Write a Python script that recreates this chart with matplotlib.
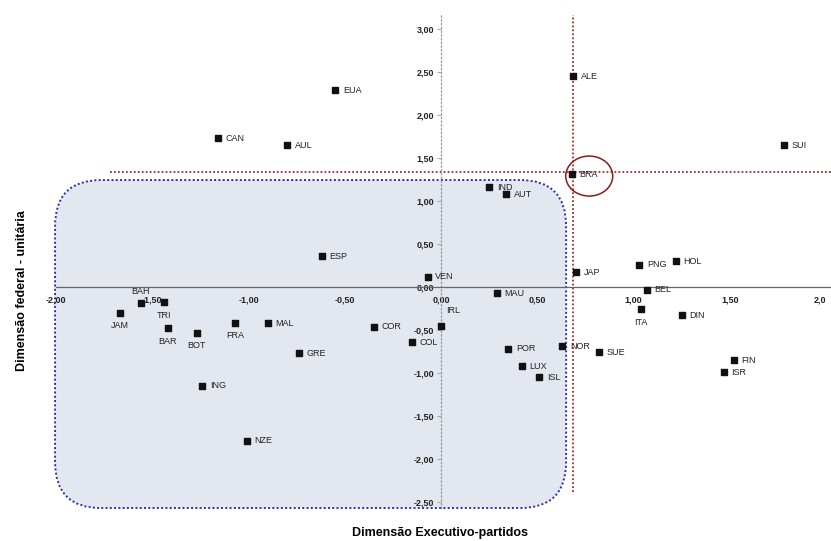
import matplotlib.pyplot as plt
from matplotlib.patches import FancyBboxPatch, Ellipse

plt.rcParams['font.family'] = ['Liberation Sans', 'DejaVu Sans']

# dados: sigla do país, dimensão executivo-partidos (x), dimensão federal-unitária (y)
paises = ['EUA', 'CAN', 'AUL', 'ESP', 'ALE', 'SUI', 'BRA', 'IND', 'AUT', 'JAP',
          'PNG', 'HOL', 'VEN', 'MAU', 'BEL', 'IRL', 'COL', 'ITA', 'DIN', 'POR',
          'NOR', 'SUE', 'LUX', 'ISL', 'FIN', 'ISR', 'BAH', 'TRI', 'JAM', 'BAR',
          'BOT', 'FRA', 'MAL', 'COR', 'GRE', 'ING', 'NZE']
exec_partidos = [-0.55, -1.16, -0.80, -0.62, 0.686, 1.78, 0.68, 0.25, 0.34, 0.70,
                 1.03, 1.22, -0.07, 0.29, 1.07, 0.00, -0.15, 1.04, 1.25, 0.35,
                 0.63, 0.82, 0.42, 0.51, 1.52, 1.47, -1.56, -1.44, -1.67, -1.42,
                 -1.27, -1.07, -0.90, -0.35, -0.74, -1.24, -1.01]
federal_unitaria = [2.29, 1.73, 1.65, 0.36, 2.45, 1.65, 1.31, 1.16, 1.08, 0.17,
                    0.26, 0.30, 0.12, -0.07, -0.03, -0.45, -0.64, -0.26, -0.33, -0.72,
                    -0.69, -0.76, -0.92, -1.05, -0.85, -0.99, -0.19, -0.18, -0.30, -0.48,
                    -0.53, -0.42, -0.42, -0.46, -0.77, -1.15, -1.79]

xticks = [-2.0, -1.5, -1.0, -0.5, 0.0, 0.5, 1.0, 1.5, 2.0]
xtick_labels = ['-2,00', '-1,50', '-1,00', '-0,50', '0,00', '0,50', '1,00', '1,50', '2,0']
yticks = [-2.5, -2.0, -1.5, -1.0, -0.5, 0.0, 0.5, 1.0, 1.5, 2.0, 2.5, 3.0]
ytick_labels = ['-2,50', '-2,00', '-1,50', '-1,00', '-0,50', '0,00', '0,50', '1,00',
                '1,50', '2,00', '2,50', '3,00']

# linhas de referência (Brasil)
ref_x = 0.686
ref_y = 1.34

# rótulos que não ficam à direita do ponto
pos_rotulo = {'BAH': 'above', 'IRL': 'aboveright', 'TRI': 'below', 'JAM': 'below',
              'BAR': 'below', 'BOT': 'below', 'FRA': 'below', 'ITA': 'below'}

fig = plt.figure(figsize=(8.31, 5.41), dpi=100)
ax = fig.add_axes([0, 0, 1, 1])
ax.set_xlim(-2.291, 2.026)
ax.set_ylim(-2.953, 3.337)

# área sombreada com canto arredondado
caixa = FancyBboxPatch((-2.005, -2.57), 2.655, 3.814,
                       boxstyle='round,pad=0,rounding_size=0.24',
                       mutation_aspect=2.24,
                       facecolor='#e3e7ef', edgecolor='#2b2bb0',
                       linestyle=(0, (1, 1.2)), linewidth=1.4, zorder=0.5)
ax.add_patch(caixa)

# eixos passando pela origem
ax.spines['top'].set_visible(False)
ax.spines['right'].set_visible(False)
ax.spines['left'].set_position(('data', 0))
ax.spines['bottom'].set_position(('data', 0))
ax.spines['bottom'].set_bounds(-2.0, 2.03)
ax.spines['bottom'].set_color('#666666')
ax.spines['bottom'].set_linewidth(0.9)
ax.spines['left'].set_bounds(-2.57, 3.16)
ax.spines['left'].set_color('#999999')
ax.spines['left'].set_linestyle((0, (1, 2)))
ax.spines['left'].set_linewidth(0.9)

ax.set_xticks(xticks)
ax.set_xticklabels(xtick_labels)
ax.set_yticks(yticks)
ax.set_yticklabels(ytick_labels)
ax.tick_params(axis='x', length=0, pad=6, labelsize=6.5)
ax.tick_params(axis='y', length=3, width=0.6, color='#999999', pad=2, labelsize=6.5)
for t in ax.get_xticklabels() + ax.get_yticklabels():
    t.set_fontweight('bold')
    t.set_color('#222222')
ax.get_xticklabels()[-1].set_horizontalalignment('right')

# linhas pontilhadas vermelhas
ax.plot([ref_x, ref_x], [-2.38, 3.16], color='#b02525', linestyle=(0, (1, 1.2)),
        linewidth=1.3, zorder=1)
ax.plot([-1.72, 2.1], [ref_y, ref_y], color='#b02525', linestyle=(0, (1, 1.2)),
        linewidth=1.3, zorder=1)

# círculo em torno do Brasil
ax.add_patch(Ellipse((0.77, 1.29), 0.244, 0.465, fill=False,
                     edgecolor='#8b1a1a', linewidth=1.1, zorder=3))

ax.scatter(exec_partidos, federal_unitaria, marker='s', s=14, color='#111111', zorder=4)

for nome, x, y in zip(paises, exec_partidos, federal_unitaria):
    pos = pos_rotulo.get(nome, 'right')
    if pos == 'right':
        ax.annotate(nome, (x, y), xytext=(5.5, 0), textcoords='offset points',
                    ha='left', va='center', fontsize=6.5, color='#222222')
    elif pos == 'below':
        ax.annotate(nome, (x, y), xytext=(0, -6), textcoords='offset points',
                    ha='center', va='top', fontsize=6.5, color='#222222')
    elif pos == 'above':
        ax.annotate(nome, (x, y), xytext=(0, 5), textcoords='offset points',
                    ha='center', va='bottom', fontsize=6.5, color='#222222')
    else:
        ax.annotate(nome, (x, y), xytext=(9, 8), textcoords='offset points',
                    ha='center', va='bottom', fontsize=6.5, color='#222222')

fig.text(0.529, 0.015, 'Dimensão Executivo-partidos', ha='center', va='center',
         fontsize=9, fontweight='bold')
fig.text(0.026, 0.462, 'Dimensão federal - unitária', ha='center', va='center',
         rotation=90, fontsize=9, fontweight='bold')

fig.savefig('out.png', dpi=100)
